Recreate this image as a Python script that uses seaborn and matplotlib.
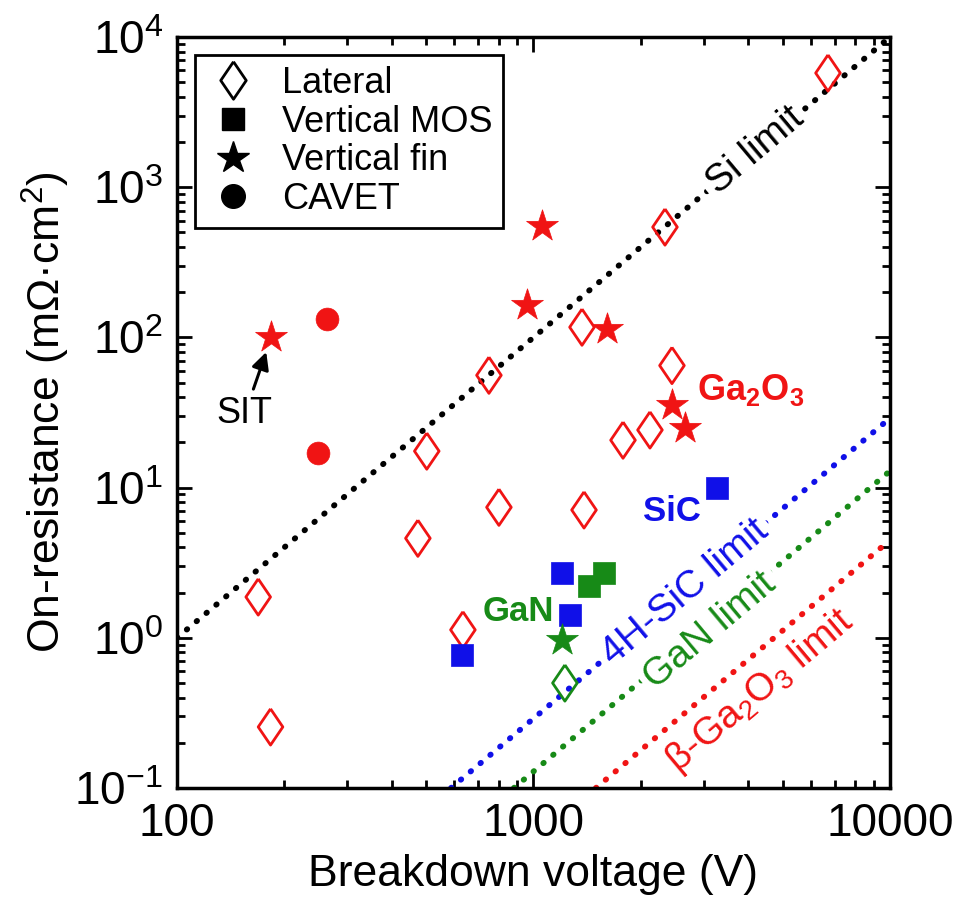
import pandas as pd
import seaborn as sns
import matplotlib.pyplot as plt
from matplotlib.lines import Line2D

# values: breakdown voltage (V), on-resistance (mOhm cm2)
lateral_ga2o3_v = [169, 183, 502, 474, 750, 800, 634, 1368, 1386, 1783, 2122, 2446, 2338, 6700]
lateral_ga2o3_r = [1.87, 0.255, 17.5, 4.6, 56, 7.4, 1.13, 117, 7.1, 20.7, 24.2, 65, 543, 5760]
lateral_gan_v = [1225]
lateral_gan_r = [0.5]
mos_sic_v = [630, 1202, 1266, 3270]
mos_sic_r = [0.77, 2.7, 1.42, 9.9]
mos_gan_v = [1431, 1577]
mos_gan_r = [2.21, 2.7]
fin_ga2o3_v = [183, 1057, 959, 1607, 2446, 2661]
fin_ga2o3_r = [100, 552, 164, 114, 35.5, 24.9]
fin_gan_v = [1202]
fin_gan_r = [0.97]
cavet_ga2o3_v = [263, 249]
cavet_ga2o3_r = [133, 17]

# material limit lines (end points)
si_lim_v = [100, 10000]
si_lim_r = [1, 10000]
sic_lim_v = [587, 10000]
sic_lim_r = [0.1, 29]
gan_lim_v = [881, 10000]
gan_lim_r = [0.1, 12.9]
ga2o3_lim_v = [1496, 10000]
ga2o3_lim_r = [0.1, 4.47]

RED = '#f01414'
BLUE = '#1010e8'
GREEN = '#178a17'
colors = {'Ga2O3': RED, 'SiC': BLUE, 'GaN': GREEN}

frames = []
for kind, mat, v, r in [
    ('Lateral', 'Ga2O3', lateral_ga2o3_v, lateral_ga2o3_r),
    ('Lateral', 'GaN', lateral_gan_v, lateral_gan_r),
    ('Vertical MOS', 'SiC', mos_sic_v, mos_sic_r),
    ('Vertical MOS', 'GaN', mos_gan_v, mos_gan_r),
    ('Vertical fin', 'Ga2O3', fin_ga2o3_v, fin_ga2o3_r),
    ('Vertical fin', 'GaN', fin_gan_v, fin_gan_r),
    ('CAVET', 'Ga2O3', cavet_ga2o3_v, cavet_ga2o3_r),
]:
    frames.append(pd.DataFrame({'V': v, 'R': r, 'kind': kind, 'material': mat}))
df = pd.concat(frames, ignore_index=True)

sns.set_style('ticks')
plt.rcParams['font.family'] = ['Liberation Sans', 'DejaVu Sans']
plt.rcParams['mathtext.fontset'] = 'custom'
plt.rcParams['mathtext.rm'] = 'Liberation Sans'
plt.rcParams['mathtext.it'] = 'Liberation Sans'
plt.rcParams['mathtext.bf'] = 'Liberation Sans:bold'
for k in ['text.color', 'axes.labelcolor', 'xtick.color', 'ytick.color', 'axes.edgecolor']:
    plt.rcParams[k] = 'black'

diamond = [(0, 1), (0.68, 0), (0, -1), (-0.68, 0), (0, 1)]
markers = {'Lateral': diamond, 'Vertical MOS': 's', 'Vertical fin': '*', 'CAVET': 'o'}
sizes = {'Lateral': 680, 'Vertical MOS': 260, 'Vertical fin': 580, 'CAVET': 270}

fig = plt.figure(figsize=(9.54, 8.97), dpi=100)
ax = fig.add_axes([0.1855, 0.1215, 0.7474, 0.8372])
ax.set_xscale('log')
ax.set_yscale('log')

# limit lines
dot = (0, (0.1, 2.1))
for v, r, c in [(si_lim_v, si_lim_r, 'black'), (sic_lim_v, sic_lim_r, BLUE),
                (gan_lim_v, gan_lim_r, GREEN), (ga2o3_lim_v, ga2o3_lim_r, RED)]:
    sns.lineplot(x=v, y=r, ax=ax, color=c, linestyle=dot, linewidth=4.2,
                 dash_capstyle='round', zorder=1)

lbl_kw = dict(fontsize=28, rotation=40, ha='center', va='center', rotation_mode='anchor', zorder=2)
box = dict(facecolor='white', edgecolor='none', pad=4)
ax.text(4180, 1750, 'Si limit', color='black', bbox=box, **lbl_kw)
ax.text(2661, 2.0, '4H-SiC limit', color=BLUE, bbox=box, **lbl_kw)
ax.text(3126, 1.12, 'GaN limit', color=GREEN, bbox=box, **lbl_kw)
ax.text(4315, 0.44, r'β-Ga$_2$O$_3$ limit', color=RED, **lbl_kw)

# data points
for (kind, mat), g in df.groupby(['kind', 'material'], sort=False):
    c = colors[mat]
    if kind == 'Lateral':
        sns.scatterplot(data=g, x='V', y='R', ax=ax, marker=markers[kind], s=sizes[kind],
                        facecolor='none', edgecolor=c, linewidth=2, zorder=3)
    else:
        sns.scatterplot(data=g, x='V', y='R', ax=ax, marker=markers[kind], s=sizes[kind],
                        color=c, edgecolor=c, linewidth=0.5, zorder=3)

# annotations
ax.annotate('SIT', xy=(178, 80), xytext=(155, 31), fontsize=26, ha='center', va='center',
            arrowprops=dict(arrowstyle='-|>', color='black', lw=2.2, mutation_scale=26, shrinkA=3, shrinkB=0))
ax.text(2877, 44.7, r'Ga$_\mathbf{2}$O$_\mathbf{3}$', color=RED, fontsize=26, fontweight='bold', ha='left', va='center')
ax.text(2027, 6.9, 'SiC', color=BLUE, fontsize=25, fontweight='bold', ha='left', va='center')
ax.text(718, 1.5, 'GaN', color=GREEN, fontsize=25, fontweight='bold', ha='left', va='center')

ax.set_xlim(100, 10000)
ax.set_ylim(0.1, 10000)
ax.set_xticks([100, 1000, 10000], ['100', '1000', '10000'])
ax.set_xlabel('Breakdown voltage (V)', fontsize=32, labelpad=6)
ax.set_ylabel('On-resistance (mΩ·cm$^2$)', fontsize=32, labelpad=2)

ax.tick_params(which='both', direction='in', top=True, right=True, width=2, labelsize=33, pad=10)
ax.tick_params(which='major', length=11)
ax.tick_params(which='minor', length=6)
for sp in ax.spines.values():
    sp.set_linewidth(2.5)
    sp.set_color('black')

handles = [
    Line2D([], [], marker=diamond, linestyle='none', markerfacecolor='white', markeredgecolor='black',
           markeredgewidth=2, markersize=27),
    Line2D([], [], marker='s', linestyle='none', color='black', markersize=16),
    Line2D([], [], marker='*', linestyle='none', color='black', markersize=24),
    Line2D([], [], marker='o', linestyle='none', color='black', markersize=17),
]
leg = ax.legend(handles, ['Lateral', 'Vertical MOS', 'Vertical fin', 'CAVET'], loc='upper left',
                fontsize=26, frameon=True, fancybox=False, framealpha=1, edgecolor='black',
                labelspacing=0.1, handletextpad=0.6, borderpad=0.3, borderaxespad=0.5, handlelength=1.5)
leg.get_frame().set_linewidth(2)

fig.savefig('out.png', dpi=100)
